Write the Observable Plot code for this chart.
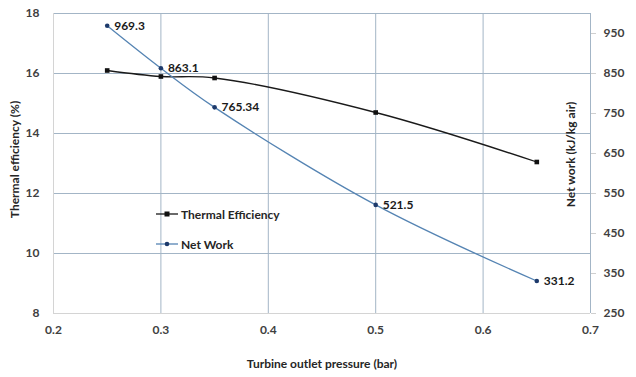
<!DOCTYPE html>
<html>
<head>
<meta charset="utf-8">
<script src="https://cdn.jsdelivr.net/npm/d3@7"></script>
<script src="https://cdn.jsdelivr.net/npm/@observablehq/plot@0.6"></script>
<style>
  body { margin: 0; background: white; }
  #wrap { position: relative; width: 636px; height: 377px; font-family: Lato, "Open Sans", sans-serif; }
  .leg { position: absolute; left: 155px; display: flex; align-items: center; font-size: 12px; font-weight: bold; color: #262626; }
  .leg svg { display: block; margin-right: 2px; }
</style>
</head>
<body>
<div id="wrap"></div>
<script>
// Data
const pressure = [0.25, 0.3, 0.35, 0.5, 0.65];
const thermalEfficiency = [16.1, 15.9, 15.85, 14.7, 13.05];
const netWork = [969.3, 863.1, 765.34, 521.5, 331.2];
const netWorkLabels = ["969.3", "863.1", "765.34", "521.5", "331.2"];
const xTicks = [0.2, 0.3, 0.4, 0.5, 0.6, 0.7];
const leftTicks = [8, 10, 12, 14, 16, 18];
const rightTicks = [250, 350, 450, 550, 650, 750, 850, 950];

// Secondary axis (250..1000) mapped onto the primary (8..18)
const toLeft = v => 8 + (v - 250) / 75;
const toRight = d => 250 + (d - 8) * 75;

const thermalRows = pressure.map((x, i) => ({x, y: thermalEfficiency[i]}));
const workRows = pressure.map((x, i) => ({x, y: toLeft(netWork[i]), label: netWorkLabels[i]}));

const grid = "#a3b5c6";
const blueLine = "#5584b3";
const blueDot = "#1d3a6b";

const chart = Plot.plot({
  width: 636,
  height: 377,
  marginLeft: 53,
  marginRight: 46,
  marginTop: 13,
  marginBottom: 64,
  x: {domain: [0.2, 0.7]},
  y: {domain: [8, 18]},
  style: {fontFamily: "Lato, 'Open Sans', sans-serif", fontSize: "12px", background: "white", color: "#404040"},
  marks: [
    Plot.gridY(leftTicks.slice(1), {stroke: grid, strokeOpacity: 1}),
    Plot.gridX(xTicks.slice(1), {stroke: grid, strokeOpacity: 1}),
    Plot.ruleY([8], {stroke: "#d4d4d4"}),
    Plot.ruleX([0.2], {stroke: "#d4d4d4"}),
    Plot.axisY({ticks: leftTicks, tickSize: 0, tickPadding: 14, fontWeight: "bold", fill: "#404040", label: null}),
    Plot.axisY({anchor: "right", ticks: rightTicks.map(toLeft), tickFormat: d => String(Math.round(toRight(d))),
      tickSize: 5, tickPadding: 8, stroke: "#cfcfcf", fill: "#404040", fontWeight: "bold", label: null}),
    Plot.axisX({ticks: xTicks, tickFormat: d => d.toFixed(1), tickSize: 0, tickPadding: 12, fontWeight: "bold", fill: "#404040", label: null}),
    Plot.text(["Turbine outlet pressure (bar)"], {frameAnchor: "bottom", dy: 54, text: d => d, fontWeight: "bold", fill: "#262626", fontSize: 12}),
    Plot.text(["Thermal efficiency (%)"], {frameAnchor: "left", textAnchor: "middle", dx: -38, dy: -4, rotate: -90, text: d => d, fontWeight: "bold", fill: "#262626", fontSize: 12}),
    Plot.text(["Net work (kJ/kg air)"], {frameAnchor: "right", textAnchor: "middle", dx: -19, dy: -9, rotate: -90, text: d => d, fontWeight: "bold", fill: "#262626", fontSize: 12}),
    Plot.line(thermalRows, {x: "x", y: "y", curve: "catmull-rom", stroke: "#1a1a1a", strokeWidth: 1.3}),
    Plot.line(workRows, {x: "x", y: "y", curve: "catmull-rom", stroke: blueLine, strokeWidth: 1.3}),
    Plot.dot(thermalRows, {x: "x", y: "y", symbol: "square", r: 2.6, fill: "#111", stroke: null}),
    Plot.dot(workRows, {x: "x", y: "y", r: 2.3, fill: blueDot, stroke: null}),
    Plot.text(workRows, {x: "x", y: "y", text: "label", dx: 7, textAnchor: "start", fill: "#1a1a1a", fontSize: 12, fontWeight: "bold"})
  ]
});

const wrap = document.getElementById("wrap");
wrap.appendChild(chart);

const legendItems = [
  {name: "Thermal Efficiency", color: "#1a1a1a", marker: "square", top: 214},
  {name: "Net Work", color: blueLine, markerColor: blueDot, marker: "circle", top: 244}
];
for (const item of legendItems) {
  const div = document.createElement("div");
  div.className = "leg";
  div.style.top = (item.top - 8) + "px";
  const m = item.marker === "square"
    ? `<rect x="9.5" y="5.5" width="5" height="5" fill="#111"/>`
    : `<circle cx="12" cy="8" r="2.3" fill="${item.markerColor}"/>`;
  div.innerHTML = `<svg width="24" height="16"><line x1="1" x2="23" y1="8" y2="8" stroke="${item.color}" stroke-width="1.3"/>${m}</svg><span>${item.name}</span>`;
  wrap.appendChild(div);
}
</script>
</body>
</html>
